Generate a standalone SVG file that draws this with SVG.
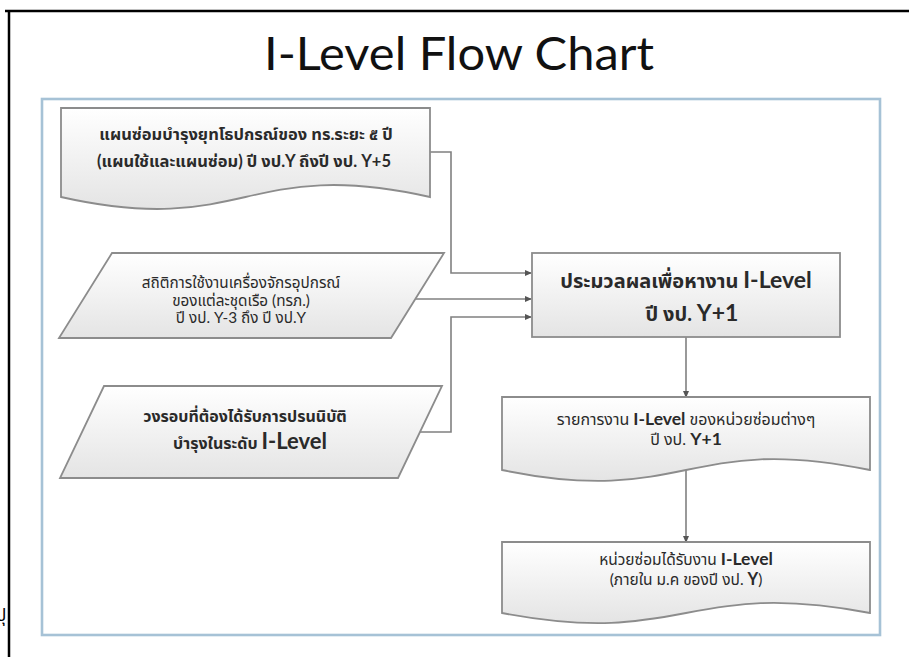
<svg xmlns="http://www.w3.org/2000/svg" width="909" height="657" viewBox="0 0 909 657">
  <defs>
    <linearGradient id="nodeFill" x1="0" y1="0" x2="0" y2="1">
      <stop offset="0" stop-color="#ffffff"/>
      <stop offset="1" stop-color="#e4e4e4"/>
    </linearGradient>
    <marker id="arrow" viewBox="0 0 8 8" refX="7" refY="4" markerWidth="7" markerHeight="7" markerUnits="userSpaceOnUse" orient="auto">
      <path d="M0,0.5 L8,4 L0,7.5 Z" fill="#555555"/>
    </marker>
  </defs>
  <style>
    .shape { fill: url(#nodeFill); stroke: #8c8c8c; stroke-width: 1.8; }
    .conn { fill: none; stroke: #808080; stroke-width: 1.6; marker-end: url(#arrow); }
    .t { font-family: "Lato", "Noto Sans Thai", "Tahoma", "DejaVu Sans", sans-serif; text-anchor: middle; fill: #2a2a2a; }
    .b { font-weight: bold; }
    .title { font-family: "Lato", "Open Sans", sans-serif; font-size: 47px; fill: #111111; text-anchor: middle; }
  </style>

  <rect x="0" y="0" width="909" height="657" fill="#ffffff"/>

  <!-- outer black frame (top and left edges) -->
  <path d="M5,11 H909 M9,10 V657" fill="none" stroke="#000000" stroke-width="2.5"/>

  <!-- partly hidden page mark at the left margin -->
  <text x="-4" y="621" font-family="'Noto Sans Thai', Tahoma, sans-serif" font-size="17" fill="#000000">ปุ</text>

  <text class="title" x="459" y="70" textLength="390" lengthAdjust="spacingAndGlyphs">I-Level Flow Chart</text>

  <!-- inner blue panel -->
  <rect x="42" y="99" width="838" height="536" fill="none" stroke="#a6c2d6" stroke-width="2.6"/>

  <g id="connectors">
    <path class="conn" d="M430,152 H451 V273 H531"/>
    <path class="conn" d="M415,299 H531"/>
    <path class="conn" d="M420,432 H451 V317 H531"/>
    <path class="conn" d="M686,337 V397"/>
    <path class="conn" d="M686,470 V542"/>
  </g>

  <g id="plan-5yr">
    <path class="shape" d="M61,108 H430 V197 C245.5,155.4 245.5,238.6 61,197 Z"/>
    <text class="t b" x="246" y="140" font-size="16.5">แผนซ่อมบำรุงยุทโธปกรณ์ของ ทร.ระยะ ๕ ปี</text>
    <text class="t b" x="244" y="167" font-size="16.5">(แผนใช้และแผนซ่อม) ปี งป.Y ถึงปี งป. Y+5</text>
  </g>

  <g id="usage-stats">
    <path class="shape" d="M112,253 H444 L391,338 H59 Z"/>
    <text class="t" x="241" y="288" font-size="15.3">สถิติการใช้งานเครื่องจักรอุปกรณ์</text>
    <text class="t" x="241" y="306" font-size="15.3">ของแต่ละชุดเรือ (ทรภ.)</text>
    <text class="t" x="241" y="323" font-size="15.3">ปี งป. Y-3 ถึง ปี งป.Y</text>
  </g>

  <g id="service-cycle">
    <path class="shape" d="M104,386 H442 L398,478 H60 Z"/>
    <text class="t b" x="245" y="422" font-size="16">วงรอบที่ต้องได้รับการปรนนิบัติ</text>
    <text class="t b" x="250" y="449" font-size="16">บำรุงในระดับ <tspan font-size="22">I-Level</tspan></text>
  </g>

  <g id="process">
    <rect class="shape" x="532" y="253" width="308" height="84"/>
    <text class="t b" x="686" y="288" font-size="20">ประมวลผลเพื่อหางาน <tspan font-size="23">I-Level</tspan></text>
    <text class="t b" x="692" y="321" font-size="20">ปี งป. <tspan font-size="23">Y+1</tspan></text>
  </g>

  <g id="job-list">
    <path class="shape" d="M502,397 H870 V470 C686,432 686,508 502,470 Z"/>
    <text class="t" x="686" y="425" font-size="16">รายการงาน <tspan class="b" font-size="17.5">I-Level</tspan> ของหน่วยซ่อมต่างๆ</text>
    <text class="t" x="686" y="445" font-size="16">ปี งป. <tspan class="b" font-size="17.5">Y+1</tspan></text>
  </g>

  <g id="units-receive">
    <path class="shape" d="M502,542 H870 V613 C686,578 686,648 502,613 Z"/>
    <text class="t" x="686" y="565" font-size="15.5">หน่วยซ่อมได้รับงาน <tspan class="b" font-size="17.5">I-Level</tspan></text>
    <text class="t" x="686" y="585" font-size="15.5">(ภายใน ม.ค ของปี งป. <tspan class="b" font-size="16.5">Y</tspan>)</text>
  </g>
</svg>
